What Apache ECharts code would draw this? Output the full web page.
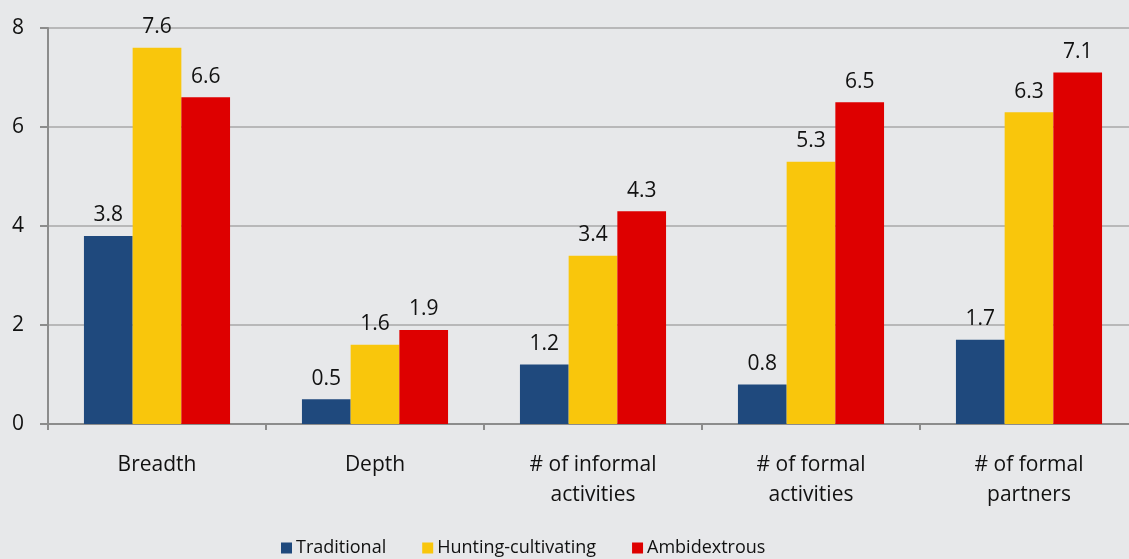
<!DOCTYPE html>
<html>
<head>
<meta charset="utf-8">
<script src="https://cdn.jsdelivr.net/npm/echarts@6/dist/echarts.min.js"></script>
<style>
html,body{margin:0;padding:0;background:#e7e8ea;overflow:hidden;width:1129px;height:559px;}
#c{width:1138px;height:559px;}
</style>
</head>
<body>
<div id="c"></div>
<script>
const categories = ['Breadth', 'Depth', '# of informal\nactivities', '# of formal\nactivities', '# of formal\npartners'];
const traditional = [3.8, 0.5, 1.2, 0.8, 1.7];
const hunting = [7.6, 1.6, 3.4, 5.3, 6.3];
const ambidextrous = [6.6, 1.9, 4.3, 6.5, 7.1];
const yTicks = [0, 2, 4, 6, 8];

const FONT = '"Open Sans", sans-serif';
const chart = echarts.init(document.getElementById('c'));
const mk = (name, data, color) => ({
  name, type: 'bar', data, barWidth: 48.7, barGap: '0%',
  itemStyle: { color },
  label: { show: true, position: 'top', distance: 10, color: '#111', fontSize: 21, fontFamily: FONT,
           formatter: p => p.value.toFixed(1) }
});
chart.setOption({
  backgroundColor: '#e7e8ea',
  animation: false,
  grid: { left: 48, right: 0, top: 28, bottom: 135, containLabel: false },
  legend: {
    bottom: -3, left: 276, itemWidth: 11, itemHeight: 11, itemGap: 36,
    icon: 'rect',
    textStyle: { fontSize: 18, fontFamily: FONT, color: '#111', padding: [0, 0, 0, -1] },
    data: ['Traditional', 'Hunting-cultivating', 'Ambidextrous']
  },
  xAxis: {
    type: 'category', data: categories,
    axisLine: { lineStyle: { color: '#8c8c8c', width: 2 } },
    axisTick: { show: true, length: 6, lineStyle: { color: '#8c8c8c', width: 2 } },
    axisLabel: { fontSize: 21, fontFamily: FONT, color: '#111', margin: 26, lineHeight: 30 }
  },
  yAxis: {
    type: 'value', min: 0, max: 8, interval: 2,
    axisLine: { show: true, lineStyle: { color: '#8c8c8c', width: 2 } },
    axisTick: { show: true, length: 8, lineStyle: { color: '#8c8c8c', width: 2 } },
    splitLine: { show: true, lineStyle: { color: '#a8a8a8', width: 1.5 } },
    axisLabel: { fontSize: 21, fontFamily: FONT, color: '#111', margin: 24,
                 formatter: v => yTicks.includes(v) ? String(v) : '' }
  },
  series: [
    mk('Traditional', traditional, '#1f497d'),
    mk('Hunting-cultivating', hunting, '#f9c60c'),
    mk('Ambidextrous', ambidextrous, '#de0000')
  ]
});
</script>
</body>
</html>
